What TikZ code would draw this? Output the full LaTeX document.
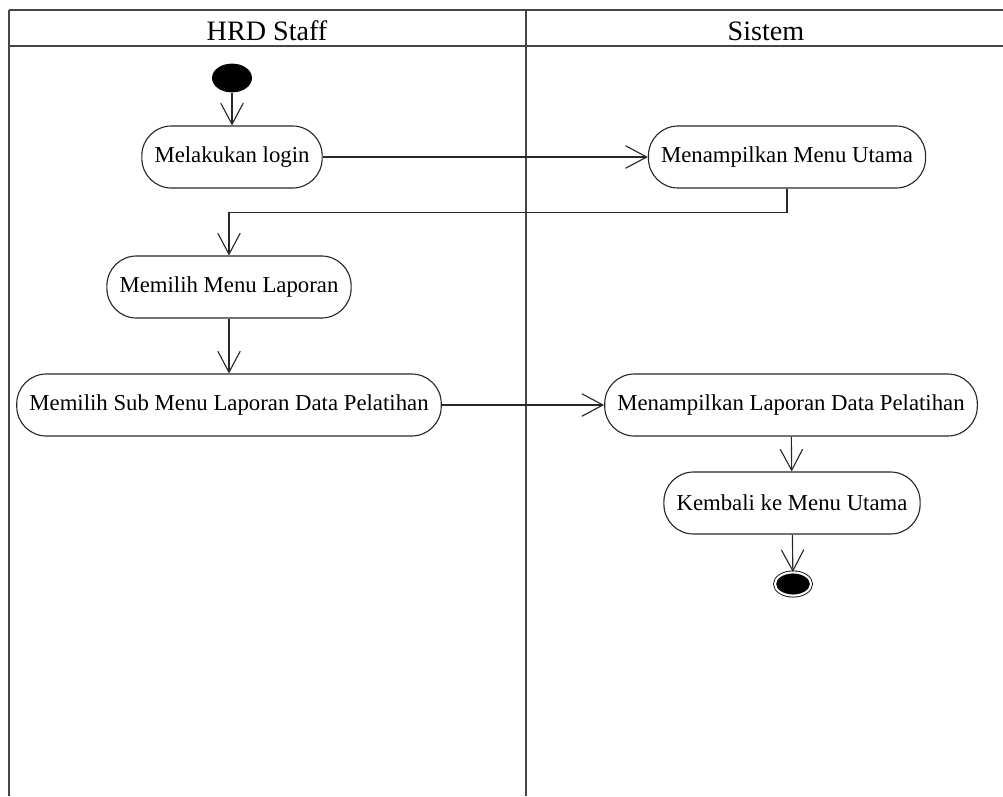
\documentclass[tikz,border=0pt]{standalone}
\usepackage{fontspec}
\setmainfont{Liberation Serif}
\usetikzlibrary{arrows.meta, positioning, shapes.geometric}
\definecolor{laneline}{RGB}{70,70,70}
\definecolor{flowline}{RGB}{40,40,40}

\begin{document}
\begin{tikzpicture}[x=0.025cm, y=-0.025cm,
  lane/.style={draw=laneline, line width=1.1pt},
  activity/.style={draw=flowline, line width=0.8pt, rounded corners=0.74cm,
    minimum height=1.55cm, inner xsep=9pt,
    font=\fontsize{16.2}{19}\selectfont},
  initnode/.style={ellipse, fill=black, minimum width=1cm, minimum height=0.72cm, inner sep=0pt},
  finalnode/.style={ellipse, draw=black, fill=black, double=white, double distance=1.5pt,
    line width=0.6pt, minimum width=0.9cm, minimum height=0.58cm, inner sep=0pt},
  flow/.style={draw=flowline, line width=0.8pt, -{Straight Barb[length=15pt, width=16pt]}}]
  \useasboundingbox (0,0) rectangle (1003,796);
  % Swimlanes
  \draw[lane] (9,10) -- (1003,10);
  \draw[lane] (9,46) -- (1003,46);
  \draw[lane] (9,10) -- (9,796);
  \draw[lane] (526,10) -- (526,796);
  \node[font=\fontsize{20}{23}\selectfont] (hrd) at (267,31) {HRD Staff};
  \node[font=\fontsize{20}{23}\selectfont] (sis) at (766,31) {Sistem};
  % Activities
  \node[initnode] (start) at (232,78) {};
  \node[activity] (login) at (232,157) {Melakukan login};
  \node[activity] (menuutama) at (787,157) {Menampilkan Menu Utama};
  \node[activity] (pilihlap) at (229,287) {Memilih Menu Laporan};
  \node[activity] (subpilih) at (229,405) {Memilih Sub Menu Laporan Data Pelatihan};
  \node[activity] (tampillap) at (791,405) {Menampilkan Laporan Data Pelatihan};
  \node[activity] (kembali) at (792,503) {Kembali ke Menu Utama};
  \node[finalnode] (finish) at (793,584) {};
  % Flows
  \draw[flow] (start) -- (login);
  \draw[flow] (login) -- (menuutama);
  \draw[flow] (menuutama.south) -- ++(0,24) -| (pilihlap.north);
  \draw[flow] (pilihlap) -- (subpilih);
  \draw[flow] (subpilih) -- (tampillap);
  \draw[flow] (tampillap) -- (kembali);
  \draw[flow] (kembali) -- (finish);
\end{tikzpicture}
\end{document}
